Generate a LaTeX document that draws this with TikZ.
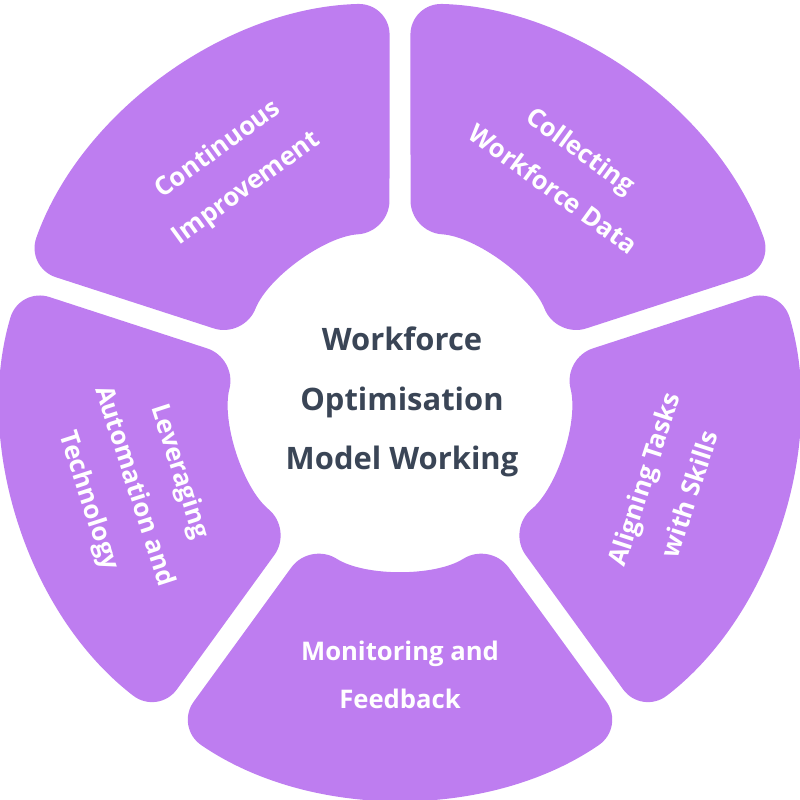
\documentclass[tikz,border=0pt]{standalone}
\usepackage{fontspec}
\usetikzlibrary{calc}
\setmainfont{Open Sans}
\definecolor{seg}{RGB}{190,125,240}
\definecolor{ctext}{RGB}{58,69,86}
\begin{document}
\begin{tikzpicture}
\useasboundingbox (0,0) rectangle (8,8);
\tikzset{segtext/.style={text=white,font=\bfseries\fontsize{7.3}{13.6}\selectfont,align=center}}
\def\R{3.97}\def\r{1.68}
\foreach \m/\n in {126/a,54/b,-18/c,-90/d,198/e}{
  \pgfmathsetmacro\ao{\m+36-1.5}\pgfmathsetmacro\bo{\m-36+1.5}
  \pgfmathsetmacro\ai{\m+36-3.6}\pgfmathsetmacro\bi{\m-36+3.6}
  \fill[seg,rounded corners=9pt] ($(4,4)+(\bo:\R)$) arc[start angle=\bo,end angle=\ao,radius=\R] -- ($(4,4)+(\ai:\r)$) arc[start angle=\ai,end angle=\bi,radius=\r] -- cycle;
}
\node[segtext,rotate=36] (a) at ($(4,4)+(126:2.85)$) {Continuous\\Improvement};
\node[segtext,rotate=-36] (b) at ($(4,4)+(54:2.85)$) {Collecting\\Workforce Data};
\node[segtext,rotate=72] (c) at ($(4,4)+(-18:2.8)$) {Aligning Tasks\\with Skills};
\node[segtext] (d) at ($(4,4)+(-90:2.75)$) {Monitoring and\\Feedback};
\node[segtext,rotate=-72] (e) at ($(4,4)+(198:2.8)$) {Leveraging\\Automation and\\Technology};
\node[text=ctext,font=\bfseries\fontsize{8.8}{17}\selectfont,align=center] (ctr) at (4.02,3.98) {Workforce\\Optimisation\\Model Working};
\end{tikzpicture}
\end{document}
